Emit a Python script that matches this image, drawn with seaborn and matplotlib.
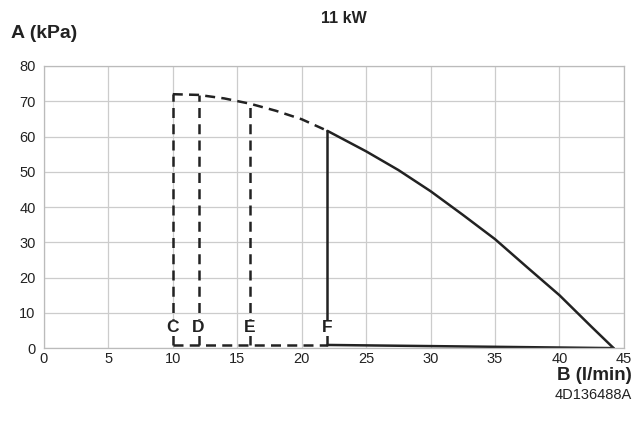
import matplotlib
matplotlib.use("Agg")
import matplotlib.pyplot as plt
import seaborn as sns
import pandas as pd

sns.set_theme(style="whitegrid")
plt.rcParams['font.family'] = ['Liberation Sans', 'DejaVu Sans']

# Data
dashed_x = [10, 12, 14, 16, 18, 20, 22]
dashed_y = [72.0, 71.8, 70.8, 69.3, 67.3, 64.9, 61.6]
solid_x = [22, 25, 27.5, 30, 32.5, 35, 37.5, 40, 42.5, 44.2]
solid_y = [61.6, 55.8, 50.5, 44.5, 37.8, 30.9, 22.9, 15.0, 6.0, 0.0]
bottom_x = [22, 44.2]
bottom_y = [0.9, 0.0]
verticals = {"C": (10, 72.0), "D": (12, 71.8), "E": (16, 69.3)}
f_x, f_top = 22, 61.6
base_y = 0.9
label_y = 5.8

fig = plt.figure(figsize=(6.36, 4.23), dpi=100)
ax = fig.add_axes([0.069, 0.177, 0.912, 0.667])

col = "#222222"
dash = (4, 2.5)
kw = dict(ax=ax, color=col, lw=1.8, sort=False, estimator=None)
sns.lineplot(x=dashed_x, y=dashed_y, linestyle=(0, dash), **kw)
sns.lineplot(x=solid_x, y=solid_y, **kw)
sns.lineplot(x=bottom_x, y=bottom_y, **kw)
sns.lineplot(x=[10, 22], y=[base_y, base_y], linestyle=(0, dash), **kw)
for k, (vx, vy) in verticals.items():
    sns.lineplot(x=[vx, vx], y=[base_y, vy], linestyle=(0, dash), **kw)
sns.lineplot(x=[f_x, f_x], y=[base_y, f_top], **kw)

for k, xv in [("C", 10), ("D", 12), ("E", 16), ("F", 22)]:
    ax.text(xv, label_y, k, ha="center", va="center", fontsize=12.5,
            fontweight="bold", color=col,
            bbox=dict(facecolor="white", edgecolor="none", pad=0.3))

ax.set_xlim(0, 45)
ax.set_ylim(0, 80)
ax.set_xticks(range(0, 46, 5))
ax.set_yticks(range(0, 81, 10))
ax.tick_params(axis="both", labelsize=10.5, colors=col, length=0)
ax.tick_params(axis="y", pad=6)
ax.tick_params(axis="x", pad=3)
ax.grid(True, color="#cccccc", lw=0.9)
for s in ax.spines.values():
    s.set_color("#bbbbbb")
    s.set_linewidth(0.9)
ax.set_xlabel("")
ax.set_ylabel("")

fig.text(0.54, 0.957, "11 kW", ha="center", va="center", fontsize=11.5, fontweight="bold", color=col)
fig.text(0.018, 0.92, "A (kPa)", ha="left", va="center", fontsize=14, fontweight="bold", color=col)
fig.text(0.994, 0.113, "B (l/min)", ha="right", va="center", fontsize=13.5, fontweight="bold", color=col)
fig.text(0.994, 0.066, "4D136488A", ha="right", va="center", fontsize=10.5, color=col)

fig.savefig("out.png", dpi=100, facecolor="white")
